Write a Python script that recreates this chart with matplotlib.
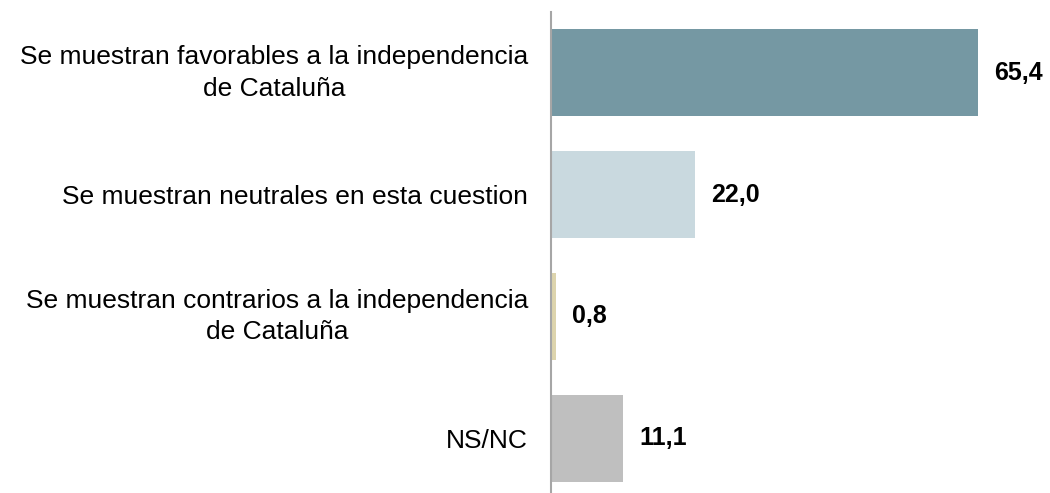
import matplotlib.pyplot as plt
import matplotlib.transforms as mtransforms
import numpy as np

plt.rcParams['font.family'] = ['Liberation Sans', 'DejaVu Sans']

categories = ['Se muestran favorables a la independencia\nde Cataluña',
              'Se muestran neutrales en esta cuestion',
              'Se muestran contrarios a la independencia\nde Cataluña',
              'NS/NC']
values = [65.4, 22.0, 0.8, 11.1]
colors = ['#7598A3', '#C9D9DF', '#DDD4AD', '#BFBFBF']

fig = plt.figure(figsize=(10.5, 4.93), dpi=100)
# axes: left edge at the vertical line, top at y=12px
ax = fig.add_axes([551 / 1050, -6 / 493, 499 / 1050, 487 / 493])

y = np.arange(len(categories))
ax.barh(y, values, height=0.715, color=colors, zorder=2)
ax.set_ylim(len(categories) - 0.5, -0.5)
ax.set_xlim(0, 76.4)

for yi, v in zip(y, values):
    ax.annotate(f'{v:.1f}'.replace('.', ','), (v, yi), xytext=(11.5, 0),
                textcoords='offset points', va='center', ha='left',
                fontsize=18, fontweight='bold')

ax.set_yticks(y)
ax.set_yticklabels(categories, fontsize=19, linespacing=1.4,
                   multialignment='center')
ax.tick_params(axis='y', length=0, pad=16.5)
ax.set_xticks([])

# two-line labels sit a bit above the bar centre in the original
shift = mtransforms.ScaledTranslation(0, 6 / 100, fig.dpi_scale_trans)
for lbl in ax.get_yticklabels():
    if '\n' in lbl.get_text():
        lbl.set_transform(lbl.get_transform() + shift)

for s in ['top', 'right', 'bottom']:
    ax.spines[s].set_visible(False)
ax.spines['left'].set_color('#A6A6A6')
ax.spines['left'].set_linewidth(1.5)
ax.spines['left'].set_zorder(3)

fig.savefig('out.png', dpi=100)
